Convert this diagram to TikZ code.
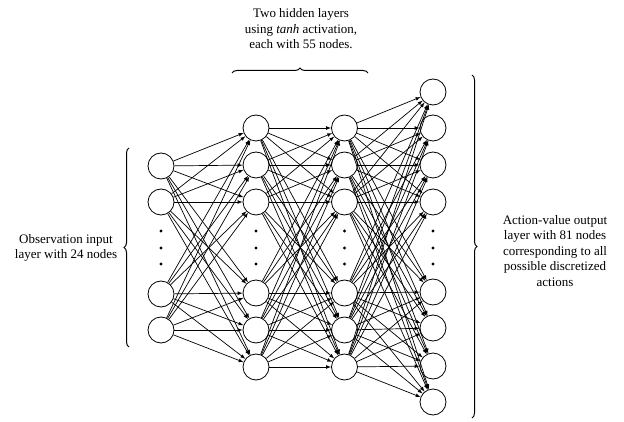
\documentclass[tikz,border=0pt]{standalone}
\usepackage{fontspec}
\setmainfont{Liberation Serif}
\usetikzlibrary{arrows,decorations.pathreplacing}

\tikzset{
  neuron/.style={draw,circle,minimum size=26pt,inner sep=0pt,line width=0.8pt},
  vdot/.style={fill,circle,inner sep=0pt,minimum size=3.2pt},
  link/.style={->,>=latex,line width=0.7pt},
  txt/.style={align=center,font=\fontsize{13}{15.5}\selectfont},
  brace/.style={decorate,decoration={brace,amplitude=5pt},line width=1pt}
}

\begin{document}
\begin{tikzpicture}[x=1pt,y=-1pt]
\useasboundingbox (0,0) rectangle (624,422);

% input layer
\foreach \n/\y in {1/166,2/202,3/294,4/330}
  \node[neuron] (in\n) at (161,\y) {};
% hidden layers
\foreach \n/\y in {1/128,2/165,3/202,4/293,5/330,6/367} {
  \node[neuron] (ha\n) at (256,\y) {};
  \node[neuron] (hb\n) at (344.5,\y) {};
}
% output layer
\foreach \n/\y in {1/92,2/128,3/165,4/202,5/292,6/328,7/366,8/402}
  \node[neuron] (out\n) at (433,\y) {};

% dots
\foreach \k/\y in {1/231,2/248,3/264} {
  \node[vdot] (din\k) at (161,\y) {};
  \node[vdot] (dha\k) at (256,\y) {};
  \node[vdot] (dhb\k) at (344.5,\y) {};
  \node[vdot] (dout\k) at (433,\y) {};
}

% connections
\foreach \i in {1,...,4}
  \foreach \j in {1,...,6}
    \draw[link] (in\i) -- (ha\j);
\foreach \i in {1,...,6}
  \foreach \j in {1,...,6}
    \draw[link] (ha\i) -- (hb\j);
\foreach \i in {1,...,6}
  \foreach \j in {1,...,8}
    \draw[link] (hb\i) -- (out\j);

% braces
\draw[brace] (129,347) -- (129,148);
\draw[brace] (232,73) -- (368,73);
\draw[brace] (472,75) -- (472,418);

% texts
\node[txt] (intxt) at (66,248) {Observation input\\layer with 24 nodes};
\node[txt] (hidtxt) at (301,29) {Two hidden layers\\using \textit{tanh} activation,\\each with 55 nodes.};
\node[txt] (outtxt) at (555,251) {Action-value output\\layer with 81 nodes\\corresponding to all\\possible discretized\\actions};
\end{tikzpicture}
\end{document}
